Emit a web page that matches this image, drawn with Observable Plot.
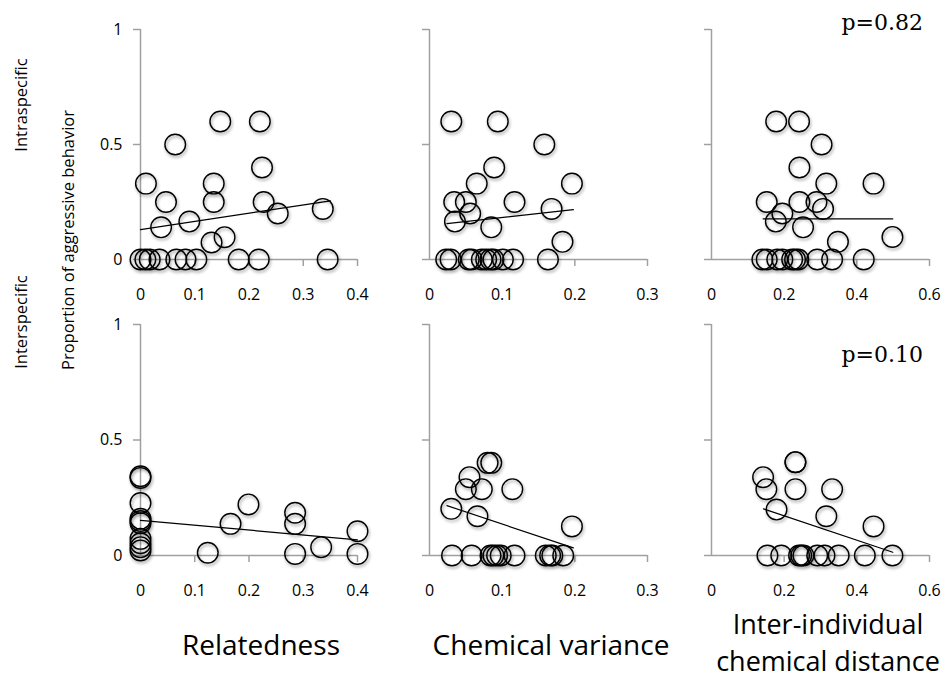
<!DOCTYPE html>
<html>
<head>
<meta charset="utf-8">
<script src="https://cdn.jsdelivr.net/npm/d3@7"></script>
<script src="https://cdn.jsdelivr.net/npm/@observablehq/plot@0.6"></script>
<style>
  html, body { margin: 0; padding: 0; background: #fff; }
  #wrap { position: relative; width: 949px; height: 681px; overflow: hidden; font-family: 'Open Sans', sans-serif; }
  .panel { position: absolute; }
  #overlay { position: absolute; left: 0; top: 0; pointer-events: none; }
</style>
</head>
<body>
<div id="wrap"></div>
<script>
// ---------- Data ----------
// Row 1: Intraspecific
const relIntraX = [0.147,0.220,0.064,0.224,0.010,0.135,0.047,0.135,0.227,0.253,0.336,0.090,0.038,0.155,0.131,0.000,0.009,0.017,0.035,0.066,0.083,0.103,0.181,0.218,0.345];
const relIntraY = [0.60,0.60,0.50,0.40,0.33,0.33,0.25,0.25,0.25,0.20,0.22,0.165,0.14,0.097,0.074,0,0,0,0,0,0,0,0,0,0];
const varIntraX = [0.030,0.094,0.158,0.089,0.065,0.196,0.034,0.050,0.117,0.056,0.168,0.035,0.085,0.183,0.023,0.029,0.054,0.058,0.072,0.078,0.084,0.088,0.101,0.115,0.163];
const varIntraY = [0.60,0.60,0.50,0.40,0.33,0.33,0.25,0.25,0.25,0.20,0.22,0.165,0.14,0.077,0,0,0,0,0,0,0,0,0,0,0];
const distIntraX = [0.178,0.241,0.303,0.242,0.316,0.446,0.152,0.242,0.289,0.307,0.195,0.177,0.252,0.348,0.498,0.140,0.152,0.181,0.195,0.222,0.230,0.239,0.291,0.332,0.419];
const distIntraY = [0.60,0.60,0.50,0.40,0.33,0.33,0.25,0.25,0.25,0.22,0.20,0.165,0.14,0.077,0.098,0,0,0,0,0,0,0,0,0,0];
// Row 2: Interspecific
const relInterX = [0,0,0,0,0,0,0,0,0,0,0.124,0.166,0.199,0.285,0.285,0.285,0.333,0.400,0.400];
const relInterY = [0.343,0.336,0.227,0.159,0.149,0.140,0.072,0.053,0.036,0.022,0.012,0.137,0.221,0.185,0.137,0.007,0.036,0.105,0.007];
const varInterX = [0.080,0.085,0.055,0.050,0.072,0.114,0.030,0.066,0.196,0.031,0.058,0.084,0.088,0.093,0.098,0.117,0.160,0.166,0.169,0.184];
const varInterY = [0.401,0.401,0.339,0.287,0.287,0.287,0.202,0.170,0.126,0,0,0,0,0,0,0,0,0,0,0];
const distInterX = [0.231,0.231,0.142,0.151,0.231,0.332,0.179,0.316,0.446,0.154,0.192,0.241,0.247,0.253,0.291,0.311,0.350,0.422,0.498];
const distInterY = [0.404,0.404,0.339,0.287,0.287,0.287,0.199,0.170,0.126,0,0,0,0,0,0,0,0,0,0];

// Trend line end points
const trendRelIntraX = [0, 0.35],      trendRelIntraY = [0.130, 0.255];
const trendVarIntraX = [0.024, 0.198], trendVarIntraY = [0.156, 0.217];
const trendDistIntraX = [0.142, 0.499], trendDistIntraY = [0.177, 0.177];
const trendRelInterX = [0, 0.4],       trendRelInterY = [0.152, 0.068];
const trendVarInterX = [0.024, 0.198], trendVarInterY = [0.216, 0.033];
const trendDistInterX = [0.143, 0.499], trendDistInterY = [0.202, 0.014];

// Axis ticks
const relTicks = [0, 0.1, 0.2, 0.3, 0.4];
const varTicks = [0, 0.1, 0.2, 0.3];
const distTicks = [0, 0.2, 0.4, 0.6];
const yTicks = [0, 0.5, 1];

// Labels
const rowLabels = ["Intraspecific", "Interspecific"];
const yTitle = "Proportion of aggressive behavior";
const xTitles = [["Relatedness"], ["Chemical variance"], ["Inter-individual", "chemical distance"]];
const pLabels = ["p=0.82", "p=0.10"];

// ---------- Layout ----------
const GRAY = "#a0a0a0";
const cols = [
  {left: 80,  width: 300, ml: 60, mr: 23, domain: [0, 0.4], ticks: relTicks, yLabels: true},
  {left: 390, width: 280, ml: 39, mr: 23, domain: [0, 0.3], ticks: varTicks, yLabels: false},
  {left: 680, width: 269, ml: 31, mr: 20, domain: [0, 0.6], ticks: distTicks, yLabels: false}
];
const rows = [
  {top: 0,   height: 300, mt: 29, mb: 41},
  {top: 300, height: 300, mt: 24, mb: 45}
];
const panels = [
  [[relIntraX, relIntraY, trendRelIntraX, trendRelIntraY],
   [varIntraX, varIntraY, trendVarIntraX, trendVarIntraY],
   [distIntraX, distIntraY, trendDistIntraX, trendDistIntraY]],
  [[relInterX, relInterY, trendRelInterX, trendRelInterY],
   [varInterX, varInterY, trendVarInterX, trendVarInterY],
   [distInterX, distInterY, trendDistInterX, trendDistInterY]]
];

const wrap = document.getElementById("wrap");

rows.forEach((row, ri) => {
  cols.forEach((col, ci) => {
    const [xs, ys, txs, tys] = panels[ri][ci];
    const pts = xs.map((x, i) => ({x, y: ys[i]}));
    const trend = txs.map((x, i) => ({x, y: tys[i]}));
    const marks = [
      Plot.ruleX([0], {stroke: GRAY, strokeWidth: 1.5}),
      Plot.ruleY([0], {stroke: GRAY, strokeWidth: 1.5}),
      Plot.axisX({ticks: col.ticks.filter(t => t !== 0), tickSize: 7, text: null, stroke: GRAY, strokeWidth: 1.5}),
      Plot.axisX({ticks: col.ticks, tickSize: 0, tickPadding: 29, fill: "black", tickFormat: d3.format("")}),
      Plot.axisY({ticks: yTicks, tickSize: 7, stroke: GRAY, strokeWidth: 1.5, text: null}),
      col.yLabels ? Plot.axisY({ticks: yTicks, tickSize: 0, tickPadding: 18, fill: "black", tickFormat: d3.format("")}) : null,
      Plot.line(trend, {x: "x", y: "y", stroke: "black", strokeWidth: 1.2}),
      Plot.dot(pts, {x: "x", y: "y", r: 10.3, stroke: "black", strokeWidth: 1.4, fill: "none"})
    ].filter(Boolean);
    const chart = Plot.plot({
      width: col.width,
      height: row.height,
      marginLeft: col.ml,
      marginRight: col.mr,
      marginTop: row.mt,
      marginBottom: row.mb,
      x: {domain: col.domain, label: null},
      y: {domain: [0, 1], label: null},
      style: {fontFamily: "'Open Sans', sans-serif", fontSize: "16px", overflow: "visible", background: "transparent"},
      marks
    });
    chart.classList.add("panel");
    chart.style.left = col.left + "px";
    chart.style.top = row.top + "px";
    chart.style.position = "absolute";
    chart.querySelectorAll('g[aria-label="dot"]').forEach(g => {
      g.style.filter = "drop-shadow(1.5px 2.5px 1.5px rgba(0,0,0,0.4))";
    });
    wrap.appendChild(chart);
  });
});

// ---------- Text overlay ----------
const ov = d3.select(wrap).append("svg")
  .attr("id", "overlay").attr("width", 949).attr("height", 681)
  .style("font-family", "'Open Sans', sans-serif");

const rowLabelY = [105, 322];
rowLabels.forEach((t, i) => {
  ov.append("text").attr("transform", `translate(27,${rowLabelY[i]}) rotate(-90)`)
    .attr("text-anchor", "middle").attr("font-size", 16.5).text(t);
});
ov.append("text").attr("transform", "translate(74,240) rotate(-90)")
  .attr("text-anchor", "middle").attr("font-size", 16.5).text(yTitle);

const titleX = [261, 551, 828];
const titleBase = [[655], [655], [634, 671]];
xTitles.forEach((lines, i) => {
  lines.forEach((ln, j) => {
    ov.append("text").attr("x", titleX[i]).attr("y", titleBase[i][j])
      .attr("text-anchor", "middle").attr("font-size", lines.length > 1 ? 27 : 28).text(ln);
  });
});

const pBase = [30, 362];
pLabels.forEach((t, i) => {
  ov.append("text").attr("x", 923).attr("y", pBase[i]).attr("text-anchor", "end")
    .attr("font-family", "'DejaVu Serif', serif").attr("font-size", 22).text(t);
});
</script>
</body>
</html>
